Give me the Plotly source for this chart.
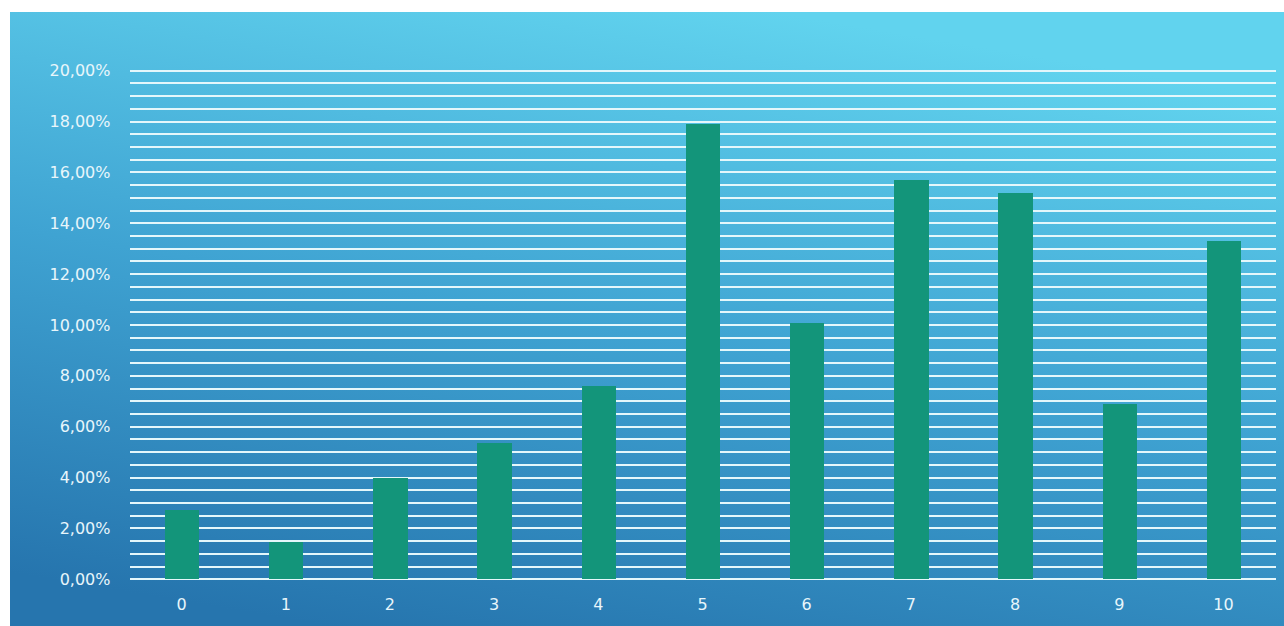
import base64
import plotly.graph_objects as go

# Data
categories = ["0", "1", "2", "3", "4", "5", "6", "7", "8", "9", "10"]
shares = [2.70, 1.48, 3.97, 5.37, 7.60, 17.90, 10.09, 15.70, 15.20, 6.88, 13.28]
y_tick_values = [0, 2, 4, 6, 8, 10, 12, 14, 16, 18, 20]
y_tick_labels = ["0,00%", "2,00%", "4,00%", "6,00%", "8,00%", "10,00%",
                 "12,00%", "14,00%", "16,00%", "18,00%", "20,00%"]

W, H = 1284, 626
BAR_COLOR = "#13957a"
GRID_COLOR = "#e4f7fb"
TEXT_COLOR = "#e8f6fb"
FONT = "DejaVu Sans"

# Blue gradient panel behind the chart
svg = """<svg xmlns='http://www.w3.org/2000/svg' width='1274' height='614' preserveAspectRatio='none'>
<defs><linearGradient id='g' x1='0.25' y1='1' x2='0.6' y2='0'>
<stop offset='0' stop-color='#2675ae'/>
<stop offset='0.5' stop-color='#3fa3d2'/>
<stop offset='1' stop-color='#61d3ee'/>
</linearGradient></defs>
<rect width='1274' height='614' fill='url(#g)'/></svg>"""
bg_uri = "data:image/svg+xml;base64," + base64.b64encode(svg.encode()).decode()

fig = go.Figure()
fig.add_trace(go.Bar(
    x=categories,
    y=shares,
    marker=dict(color=BAR_COLOR, line=dict(width=0)),
    width=0.33,
    hoverinfo="x+y",
))

# plot area in pixels
px_left, px_right = 129.5, 1275.5
y_lo, y_hi = -0.1, 20.1
px_per_unit = 25.43
px_zero = 579.3
px_bottom = px_zero + (0 - y_lo) * px_per_unit
px_top = px_zero - (y_hi - 0) * px_per_unit

fig.update_layout(
    width=W,
    height=H,
    margin=dict(l=0, r=0, t=0, b=0, pad=0, autoexpand=False),
    paper_bgcolor="white",
    plot_bgcolor="rgba(0,0,0,0)",
    showlegend=False,
    bargap=0,
    font=dict(family=FONT, size=16, color=TEXT_COLOR),
    images=[dict(
        source=bg_uri,
        xref="paper", yref="paper",
        x=10 / W, y=1 - 12 / H,
        sizex=1 - 10 / W, sizey=1 - 12 / H,
        xanchor="left", yanchor="top",
        sizing="stretch",
        layer="below",
    )],
    xaxis=dict(
        domain=[px_left / W, px_right / W],
        type="category",
        range=[-0.5, 10.5],
        automargin=False,
        showgrid=False,
        zeroline=False,
        showline=False,
        ticks="",
        ticklabelstandoff=11,
        tickfont=dict(family=FONT, size=16, color=TEXT_COLOR),
    ),
    yaxis=dict(
        domain=[(H - px_bottom) / H, (H - px_top) / H],
        range=[y_lo, y_hi],
        automargin=False,
        tickvals=y_tick_values,
        ticktext=y_tick_labels,
        showgrid=True,
        gridcolor=GRID_COLOR,
        gridwidth=2,
        minor=dict(dtick=0.5, tick0=0, showgrid=True, gridcolor=GRID_COLOR, gridwidth=2),
        zeroline=False,
        showline=False,
        ticks="",
        ticklabelstandoff=18,
        tickfont=dict(family=FONT, size=16, color=TEXT_COLOR),
    ),
)

fig.write_html("out.html")
